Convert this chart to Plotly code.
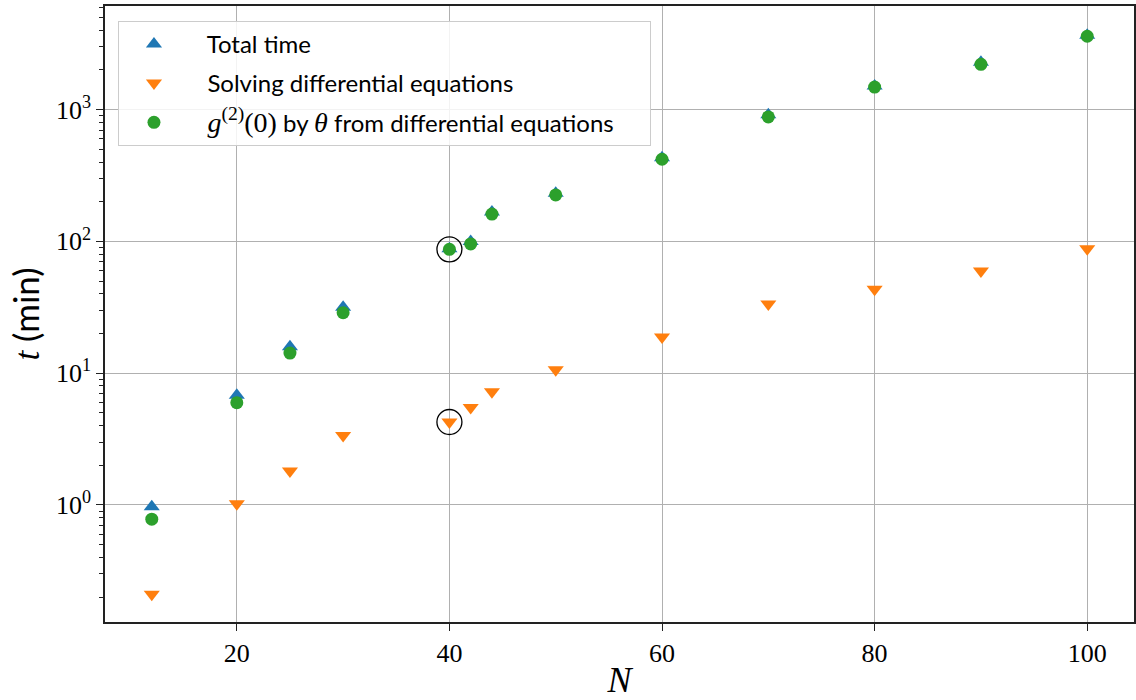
import plotly.graph_objects as go

# ---- data ----
N = [12, 20, 25, 30, 40, 42, 44, 50, 60, 70, 80, 90, 100]
total_time = [0.97, 6.8, 15.9, 31.7, 88, 100, 167, 232, 432, 915, 1510, 2290, 3660]
solving_de = [0.21, 1.02, 1.81, 3.36, 4.26, 5.5, 7.24, 10.6, 18.8, 33.5, 43.3, 59.6, 88]
g2_theta = [0.78, 5.97, 14.2, 28.8, 87, 95.6, 161, 225, 420, 879, 1483, 2207, 3600]
highlight_N = [40, 40]
highlight_t = [87, 4.26]

PAD = "&nbsp;&nbsp;&nbsp;"
MATH = "<span style=\"font-family:Liberation Serif;font-size:28px\">"
names = [PAD + "Total time", PAD + "Solving differential equations",
         PAD + MATH + "<i>g</i><sup>(2)</sup>(0)</span> by "
         + MATH + "<i>θ</i></span> from differential equations" + "&nbsp;" * 5]
colors = ["#1f77b4", "#ff7f0e", "#2ca02c"]

ytick_vals = [1, 10, 100, 1000]
ytick_text = ["10<sup>0</sup>", "10<sup>1</sup>", "10<sup>2</sup>", "10<sup>3</sup>"]
xtick_vals = [20, 40, 60, 80, 100]
minor_vals = [m * 10 ** d for d in range(-1, 4) for m in range(2, 10)]

SERIF = "Liberation Serif"
SANS = "Lato"

fig = go.Figure()
fig.add_trace(go.Scatter(x=N, y=total_time, mode="markers", name=names[0],
                         legendgroup="a",
                         marker=dict(symbol="triangle-up", size=14, color=colors[0])))
fig.add_trace(go.Scatter(x=N, y=solving_de, mode="markers", name=names[1],
                         legendgroup="b",
                         marker=dict(symbol="triangle-down", size=14, color=colors[1])))
fig.add_trace(go.Scatter(x=N, y=g2_theta, mode="markers", name=names[2],
                         legendgroup="c",
                         marker=dict(symbol="circle", size=13, color=colors[2])))
fig.add_trace(go.Scatter(x=highlight_N, y=highlight_t, mode="markers", showlegend=False,
                         marker=dict(symbol="circle-open", size=25, color="black",
                                     line=dict(width=1.3, color="black"))))

fig.update_layout(
    width=1136, height=700,
    paper_bgcolor="white", plot_bgcolor="white",
    margin=dict(l=105, r=2, t=6, b=78),
    showlegend=True,
    legend=dict(x=0.0126, y=0.976, xanchor="left", yanchor="top",
                bgcolor="rgba(255,255,255,0.85)", bordercolor="#cccccc", borderwidth=1,
                font=dict(family=SANS, size=24, color="black"),
                traceorder="grouped", tracegroupgap=5, itemwidth=60),
    xaxis=dict(range=[7.6, 104.4], tickmode="array", tickvals=xtick_vals,
               automargin=False,
               showgrid=True, gridcolor="#b0b0b0", gridwidth=1,
               showline=True, linecolor="#222222", linewidth=1.5, mirror=True,
               ticks="outside", ticklen=7, tickcolor="#222222",
               tickfont=dict(family=SERIF, size=26, color="black"),
               zeroline=False,
               title=dict(text="<i>N</i>", font=dict(family=SERIF, size=36, color="black"),
                          standoff=4)),
    yaxis=dict(type="log", range=[-0.888, 3.786], tickmode="array",
               tickvals=ytick_vals, ticktext=ytick_text,
               automargin=False,
               showgrid=True, gridcolor="#b0b0b0", gridwidth=1,
               showline=True, linecolor="#222222", linewidth=1.5, mirror=True,
               ticks="outside", ticklen=7, tickcolor="#222222",
               tickfont=dict(family=SERIF, size=26, color="black"),
               minor=dict(tickmode="array", tickvals=minor_vals, ticks="outside",
                          ticklen=4, tickcolor="#222222", showgrid=False),
               zeroline=False,
               title=dict(text="<span style=\"font-family:Liberation Serif\"><i>t</i></span> (min)",
                          font=dict(family=SANS, size=35, color="black"), standoff=6)),
)

fig.write_html("out.html", config={"displayModeBar": False},
               post_script="document.body.style.margin='0';")
